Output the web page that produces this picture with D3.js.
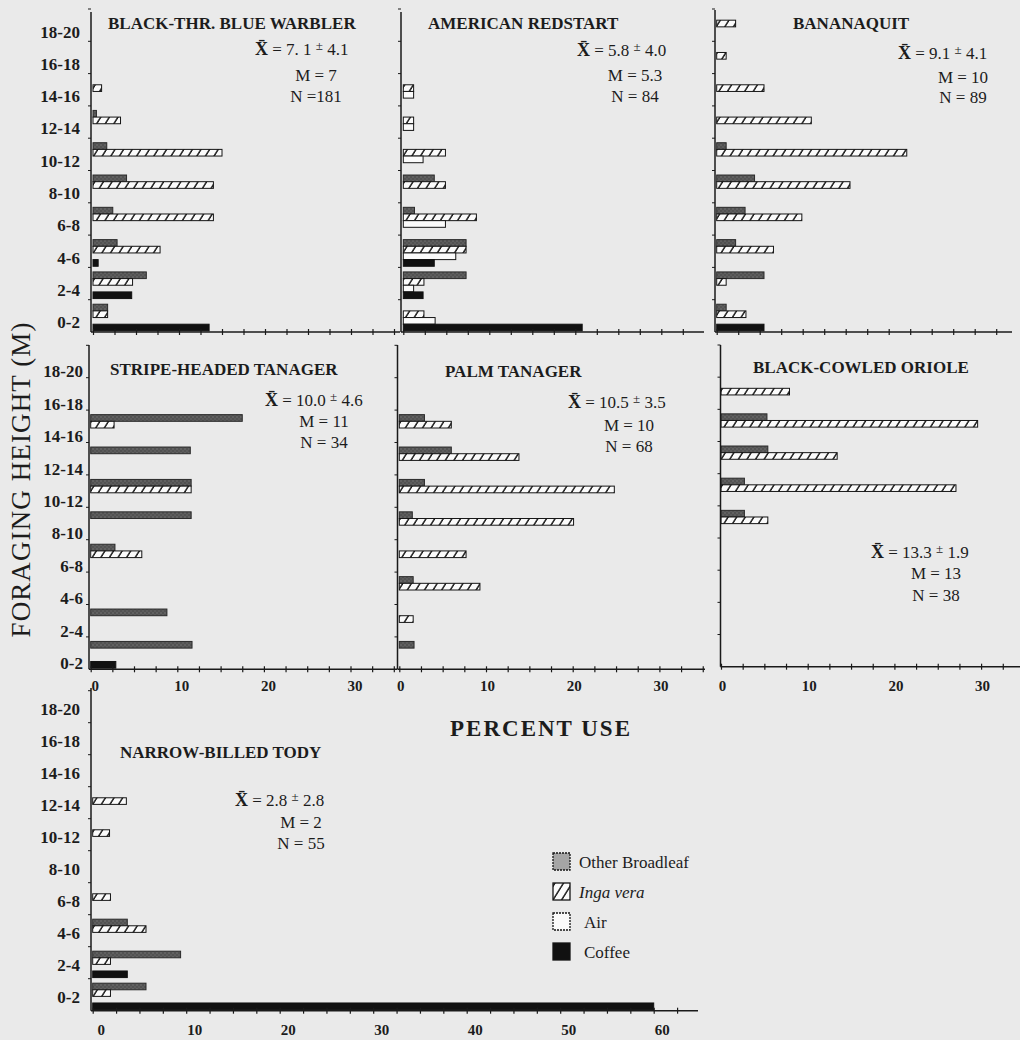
<!DOCTYPE html>
<html><head><meta charset="utf-8">
<script src="https://cdn.jsdelivr.net/npm/d3@7"></script>
<style>
html,body{margin:0;padding:0;background:#eaeaea;}
svg{display:block;}
text{font-family:"Liberation Serif","Times New Roman",serif;fill:#1c1c1c;}
</style></head><body>
<svg id="chart" width="1020" height="1040"></svg>
<script>
// ---------------- DATA ----------------
const heightClasses = ["0-2","2-4","4-6","6-8","8-10","10-12","12-14","14-16","16-18","18-20"];
const substrates = ["Other Broadleaf","Inga vera","Air","Coffee"];
const speciesNames = ["BLACK-THR. BLUE WARBLER","AMERICAN REDSTART","BANANAQUIT",
  "STRIPE-HEADED TANAGER","PALM TANAGER","BLACK-COWLED ORIOLE","NARROW-BILLED TODY"];

// percent use per height class (0-2 ... 18-20)
const btbwOther  = [1.7, 6.2, 2.8, 2.3, 3.9, 1.6, 0.4, 0, 0, 0];
const btbwInga   = [1.7, 4.6, 7.8, 14.0, 14.0, 15.0, 3.2, 1.0, 0, 0];
const btbwAir    = [0, 0, 0, 0, 0, 0, 0, 0, 0, 0];
const btbwCoffee = [13.5, 4.5, 0.6, 0, 0, 0, 0, 0, 0, 0];

const amreOther  = [0, 7.3, 7.3, 1.3, 3.6, 0, 0, 0, 0, 0];
const amreInga   = [2.4, 2.4, 7.3, 8.5, 4.9, 4.9, 1.2, 1.2, 0, 0];
const amreAir    = [3.7, 1.2, 6.1, 4.9, 0, 2.3, 1.2, 1.2, 0, 0];
const amreCoffee = [20.8, 2.3, 3.6, 0, 0, 0, 0, 0, 0, 0];

const banaOther  = [1.1, 5.5, 2.2, 3.3, 4.4, 1.1, 0, 0, 0, 0];
const banaInga   = [3.4, 1.1, 6.6, 9.9, 15.5, 22.1, 11.0, 5.5, 1.1, 2.2];
const banaAir    = [0, 0, 0, 0, 0, 0, 0, 0, 0, 0];
const banaCoffee = [5.5, 0, 0, 0, 0, 0, 0, 0, 0, 0];

const shtaOther  = [11.7, 8.8, 0, 2.8, 11.6, 11.6, 11.5, 17.5, 0, 0];
const shtaInga   = [0, 0, 0, 5.9, 0, 11.6, 0, 2.7, 0, 0];
const shtaAir    = [0, 0, 0, 0, 0, 0, 0, 0, 0, 0];
const shtaCoffee = [2.9, 0, 0, 0, 0, 0, 0, 0, 0, 0];

const pataOther  = [1.7, 0, 1.6, 0, 1.5, 2.9, 6.0, 2.9, 0, 0];
const pataInga   = [0, 1.6, 9.3, 7.7, 20.1, 24.8, 13.8, 6.0, 0, 0];
const pataAir    = [0, 0, 0, 0, 0, 0, 0, 0, 0, 0];
const pataCoffee = [0, 0, 0, 0, 0, 0, 0, 0, 0, 0];

const bcorOther  = [0, 0, 0, 0, 2.7, 2.7, 5.4, 5.3, 0, 0];
const bcorInga   = [0, 0, 0, 0, 5.4, 27.1, 13.4, 29.6, 7.9, 0];
const bcorAir    = [0, 0, 0, 0, 0, 0, 0, 0, 0, 0];
const bcorCoffee = [0, 0, 0, 0, 0, 0, 0, 0, 0, 0];

const nbtoOther  = [5.7, 9.4, 3.7, 0, 0, 0, 0, 0, 0, 0];
const nbtoInga   = [1.9, 1.9, 5.7, 1.9, 0, 1.8, 3.6, 0, 0, 0];
const nbtoAir    = [0, 0, 0, 0, 0, 0, 0, 0, 0, 0];
const nbtoCoffee = [60.0, 3.7, 0, 0, 0, 0, 0, 0, 0, 0];

const statMean = ["7. 1", "5.8", "9.1", "10.0", "10.5", "13.3", "2.8"];
const statSD   = ["4.1", "4.0", "4.1", "4.6", "3.5", "1.9", "2.8"];
const statM    = ["7", "5.3", "10", "11", "10", "13", "2"];
const statN    = ["181", "84", "89", "34", "68", "38", "55"];

const xTicksShort = [0, 10, 20, 30];
const xTicksLong  = [0, 10, 20, 30, 40, 50, 60];

const seriesBySpecies = [
  [btbwOther, btbwInga, btbwAir, btbwCoffee],
  [amreOther, amreInga, amreAir, amreCoffee],
  [banaOther, banaInga, banaAir, banaCoffee],
  [shtaOther, shtaInga, shtaAir, shtaCoffee],
  [pataOther, pataInga, pataAir, pataCoffee],
  [bcorOther, bcorInga, bcorAir, bcorCoffee],
  [nbtoOther, nbtoInga, nbtoAir, nbtoCoffee]
];

// ---------------- LAYOUT ----------------
const layout = [
  {ax:91,  x0:93,    x10:179,   axEnd:400,  axTop:12,  bandTop:9,     bottom:332,    yLab:{x:80, dy:9.3},
   title:[108,23],  stat:{xx:255, xy:49, mx:316, my:75, ny:96}, xLab:null},
  {ax:401, x0:403.3, x10:489.3, axEnd:704,  axTop:12,  bandTop:9,     bottom:332,    yLab:null,
   title:[428,23],  stat:{xx:577, xy:50, mx:635, my:75, ny:96}, xLab:null},
  {ax:715, x0:716.7, x10:802.7, axEnd:1012, axTop:10,  bandTop:9,     bottom:332,    yLab:null,
   title:[793,23],  stat:{xx:898, xy:53, mx:963, my:77, ny:97}, xLab:null},
  {ax:89,  x0:90.7,  x10:177.3, axEnd:397,  axTop:345, bandTop:345.3, bottom:669.3,  yLab:{x:83, dy:5.8},
   title:[110,369], stat:{xx:265, xy:400, mx:324, my:421, ny:442}, xLab:{ticks:xTicksShort, y:686, dx:4}},
  {ax:397.5, x0:399.3, x10:486, axEnd:705,  axTop:345, bandTop:345.3, bottom:669.3,  yLab:null,
   title:[445,371], stat:{xx:568, xy:402, mx:629, my:425, ny:446}, xLab:{ticks:xTicksShort, y:686, dx:1}},
  {ax:720.5, x0:721, x10:807.7,   axEnd:1020, axTop:345, bandTop:345,   bottom:666.7,  yLab:null,
   title:[753,367], stat:{xx:871, xy:552, mx:936, my:573, ny:595}, xLab:{ticks:xTicksShort, y:686, dx:1}},
  {ax:91,  x0:92.7,  x10:186.2, axEnd:698,  axTop:688, bandTop:690.7, bottom:1010.7, yLab:{x:80, dy:13},
   title:[120,752], stat:{xx:235, xy:800, mx:301, my:822, ny:843}, xLab:{ticks:xTicksLong, y:1030, dx:8}}
];

// ---------------- DRAW ----------------
const svg = d3.select("#chart");
svg.append("rect").attr("width",1020).attr("height",1040).attr("fill","#eaeaea");

const defs = svg.append("defs");
const pOther = defs.append("pattern").attr("id","pOther").attr("patternUnits","userSpaceOnUse")
  .attr("width",4).attr("height",4);
pOther.append("rect").attr("width",4).attr("height",4).attr("fill","#525252");
pOther.append("rect").attr("x",0.5).attr("y",0.5).attr("width",1).attr("height",1).attr("fill","#8e8e8e");
pOther.append("rect").attr("x",2.5).attr("y",2.5).attr("width",1).attr("height",1).attr("fill","#787878");

const pInga = defs.append("pattern").attr("id","pInga").attr("patternUnits","userSpaceOnUse")
  .attr("width",8.6).attr("height",10).attr("patternTransform","skewX(-32)");
pInga.append("rect").attr("width",8.6).attr("height",10).attr("fill","#fbfbfb");
pInga.append("line").attr("x1",2).attr("x2",2).attr("y1",-1).attr("y2",11)
  .attr("stroke","#151515").attr("stroke-width",1.7);

const fills = {"Other Broadleaf":"url(#pOther)","Inga vera":"url(#pInga)","Air":"#fbfbfb","Coffee":"#111"};
const strokes = {"Other Broadleaf":"#2a2a2a","Inga vera":"#151515","Air":"#151515","Coffee":"#111"};

layout.forEach((L, pi) => {
  const g = svg.append("g");
  const x = d3.scaleLinear().domain([0,10]).range([L.x0, L.x10]);
  const y = d3.scaleBand().domain(heightClasses).range([L.bottom, L.bandTop]);
  const bw = y.bandwidth();
  const sub = d3.scaleBand().domain(substrates).range([0.14*bw, 0.965*bw]);

  // bars
  const rows = [];
  substrates.forEach((s, si) => {
    seriesBySpecies[pi][si].forEach((v, hi) => {
      if (v > 0) rows.push({s, h: heightClasses[hi], v});
    });
  });
  g.selectAll("rect.bar").data(rows).join("rect").attr("class","bar")
    .attr("x", x(0))
    .attr("y", d => y(d.h) + sub(d.s))
    .attr("width", d => x(d.v) - x(0))
    .attr("height", sub.bandwidth())
    .attr("fill", d => fills[d.s])
    .attr("stroke", d => strokes[d.s])
    .attr("stroke-width", 1);

  // x axis (ticks every 2.5)
  const xMax = x.invert(L.axEnd);
  const tickVals = d3.range(0, xMax + 0.001, 2.5);
  const xAxis = d3.axisBottom(x).tickValues(tickVals).tickSizeInner(3).tickSizeOuter(0).tickFormat("");
  const xa = g.append("g").attr("transform",`translate(0,${L.bottom})`).call(xAxis);
  xa.select(".domain").remove();
  xa.selectAll(".tick line").attr("y1",-3).attr("y2",3).attr("stroke","#1a1a1a").attr("stroke-width",1.2);
  g.append("line").attr("x1",L.ax).attr("x2",L.axEnd).attr("y1",L.bottom).attr("y2",L.bottom)
    .attr("stroke","#1a1a1a").attr("stroke-width",1.5);

  // y axis
  g.append("line").attr("x1",L.ax).attr("x2",L.ax).attr("y1",L.axTop).attr("y2",L.bottom)
    .attr("stroke","#1a1a1a").attr("stroke-width",1.5);
  g.selectAll("line.ytick").data(heightClasses).join("line").attr("class","ytick")
    .attr("x1",L.ax-3).attr("x2",L.ax).attr("y1",d=>y(d)).attr("y2",d=>y(d))
    .attr("stroke","#1a1a1a").attr("stroke-width",1);

  if (L.yLab) {
    g.selectAll("text.ylab").data(heightClasses).join("text").attr("class","ylab")
      .attr("x", L.yLab.x).attr("y", d => y(d) + bw - L.yLab.dy)
      .attr("text-anchor","end").attr("dominant-baseline","central")
      .attr("font-size",17).attr("font-weight","bold").text(d => d);
  }
  if (L.xLab) {
    const labAxis = d3.axisBottom(x).tickValues(L.xLab.ticks).tickSize(0).tickFormat(d3.format("d"));
    const la = g.append("g").attr("transform",`translate(${L.xLab.dx},${L.xLab.y})`).call(labAxis);
    la.select(".domain").remove();
    la.selectAll("text").attr("y",0).attr("dy",null).attr("dominant-baseline","central")
      .attr("font-size",15).attr("font-weight","bold")
      .attr("font-family",'"Liberation Serif","Times New Roman",serif').attr("fill","#1c1c1c");
  }

  // title
  g.append("text").attr("x",L.title[0]).attr("y",L.title[1]).attr("dominant-baseline","central")
    .attr("font-size",17).attr("font-weight","bold").text(speciesNames[pi]);

  // stats
  const st = L.stat;
  const t1 = g.append("text").attr("x",st.xx).attr("y",st.xy).attr("dominant-baseline","central").attr("font-size",17);
  t1.append("tspan").attr("font-weight","bold").attr("font-size",18).text("X\u0304");
  t1.append("tspan").text(" = " + statMean[pi] + " ");
  t1.append("tspan").attr("font-size",13).attr("dy",-4).text("\u00B1");
  t1.append("tspan").attr("dy",4).text(" " + statSD[pi]);
  g.append("text").attr("x",st.mx).attr("y",st.my).attr("text-anchor","middle").attr("dominant-baseline","central")
    .attr("font-size",17).text("M = " + statM[pi]);
  g.append("text").attr("x",st.mx).attr("y",st.ny).attr("text-anchor","middle").attr("dominant-baseline","central")
    .attr("font-size",17).text((pi === 0 ? "N =" : "N = ") + statN[pi]);
});

// axis titles
svg.append("text").attr("x",540).attr("y",728).attr("text-anchor","middle").attr("dominant-baseline","central")
  .attr("font-size",23).attr("font-weight","bold").attr("textLength",180).attr("lengthAdjust","spacing")
  .text("PERCENT  USE");
svg.append("text").attr("transform","translate(21,480) rotate(-90)").attr("text-anchor","middle")
  .attr("dominant-baseline","central").attr("font-size",27).attr("textLength",315).attr("lengthAdjust","spacing")
  .text("FORAGING HEIGHT (M)");

// legend
const legendFills = {"Other Broadleaf":"#a5a5a5","Inga vera":"url(#pInga)","Air":"#fbfbfb","Coffee":"#111"};
const lg = svg.append("g").attr("transform","translate(553,853)");
const li = lg.selectAll("g").data(substrates).join("g").attr("transform",(d,i)=>`translate(0,${i*30})`);
li.append("rect").attr("width",17).attr("height",17).attr("fill",d=>legendFills[d])
  .attr("stroke","#151515").attr("stroke-width",1.3)
  .attr("stroke-dasharray",d=> (d==="Other Broadleaf"||d==="Air") ? "2,1" : null);
li.append("text").attr("x",d=> (d==="Air"||d==="Coffee") ? 31 : 26).attr("y",9).attr("dominant-baseline","central")
  .attr("font-size",17).attr("font-style",d=>d==="Inga vera"?"italic":null).text(d=>d);
</script>
</body></html>
